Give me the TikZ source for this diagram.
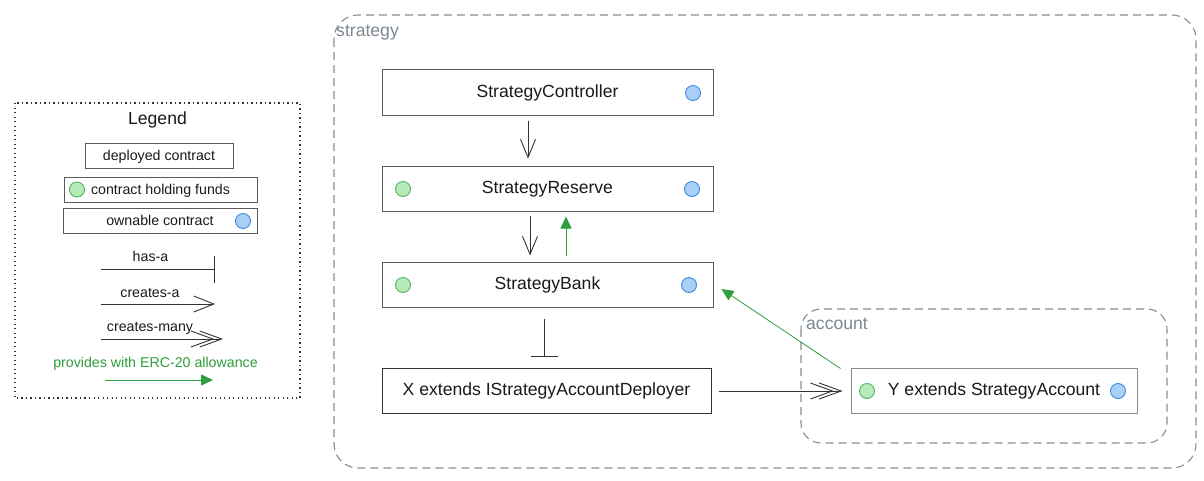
\documentclass[tikz,border=0pt]{standalone}
\usepackage{fontspec}
\setmainfont{Liberation Sans}
\usetikzlibrary{arrows.meta}
\definecolor{txt}{HTML}{1A1A1A}
\definecolor{boxline}{HTML}{5A5A5A}
\definecolor{grpline}{HTML}{8C8C8C}
\definecolor{grptxt}{HTML}{7D8791}
\definecolor{allow}{HTML}{2E9E3C}
\definecolor{gfill}{HTML}{B5EDB8}
\definecolor{gline}{HTML}{55B060}
\definecolor{bfill}{HTML}{A8D0F8}
\definecolor{bline}{HTML}{3F88D6}
\definecolor{edge}{HTML}{333333}
\tikzset{
  bigfont/.style={font=\fontsize{17.6}{20}\selectfont, text height=12pt, text depth=1.4pt},
  smallfont/.style={font=\fontsize{14.2}{16}\selectfont, text height=10pt, text depth=0.8pt},
  contract/.style={draw=boxline, line width=1pt, fill=white, minimum height=45pt, inner sep=0pt, text=txt, bigfont},
  legbox/.style={draw=boxline, line width=1pt, fill=white, minimum height=25pt, inner sep=0pt, text=txt, smallfont},
  fundsdot/.style={circle, draw=gline, fill=gfill, line width=0.9pt, minimum size=15pt, inner sep=0pt},
  owndot/.style={circle, draw=bline, fill=bfill, line width=0.9pt, minimum size=15pt, inner sep=0pt},
  grp/.style={draw=grpline, line width=1.1pt, dash pattern=on 8pt off 5pt},
  grplabel/.style={text=grptxt, bigfont, inner sep=0pt, anchor=west},
  hasa/.style={draw=edge, line width=1pt, -{Bar[width=27pt]}},
  createsa/.style={draw=edge, line width=0.9pt, -{Straight Barb[length=18pt,width=15pt]}},
  createsmany/.style={draw=edge, line width=0.9pt, -{Straight Barb[length=22pt,width=16pt,sep=-15pt]Straight Barb[length=22pt,width=16pt]}},
  allowance/.style={draw=allow, line width=1pt, -{Triangle[length=12pt,width=11pt]}, allow},
  elabel/.style={text=txt, smallfont, inner sep=0pt},
}
\begin{document}
\begin{tikzpicture}[x=1pt,y=-1pt]
\useasboundingbox (0,0) rectangle (1204,480);
\fill[white] (0,0) rectangle (1204,480);

% Legend
\draw[edge, line width=1.3pt, dash pattern=on 1.3pt off 3.2pt] (15,103) rectangle (300,398);
\node[text=txt, bigfont, inner sep=0pt] (legtitle) at (157.5,119) {Legend};
\node[legbox, minimum width=148pt] (ldep) at (159,156) {deployed contract};
\node[legbox, minimum width=193pt] (lfunds) at (160.5,189.5) {contract holding funds};
\node[fundsdot] (lfundsdot) at (77,189.5) {};
\node[legbox, minimum width=194pt] (lown) at (160,221) {ownable contract};
\node[owndot] (lowndot) at (243,221) {};
\coordinate (h1) at (101,269); \coordinate (h2) at (215,269);
\draw[hasa] (h1) -- (h2);
\node[elabel] (lhas) at (150.5,256.5) {has-a};
\coordinate (c1) at (101,304); \coordinate (c2) at (215,304);
\draw[createsa, -{Straight Barb[length=20pt,width=16pt]}] (c1) -- (c2);
\node[elabel] (lcre) at (150,292.5) {creates-a};
\coordinate (m1) at (101,339); \coordinate (m2) at (223,339);
\draw[createsmany] (m1) -- (m2);
\node[elabel] (lmany) at (150,327) {creates-many};
\node[smallfont, text=allow, inner sep=0pt] (lallow) at (155.5,362.5) {provides with ERC-20 allowance};
\coordinate (a1) at (105,380); \coordinate (a2) at (213,380);
\draw[allowance] (a1) -- (a2);

% strategy group
\draw[grp, rounded corners=24pt] (334,15) rectangle (1196,468);
\node[grplabel] (gstrat) at (336,31) {strategy};

% account group
\draw[grp, rounded corners=20pt] (801,309) rectangle (1167,443);
\node[grplabel] (gacc) at (806,324) {account};

% contracts
\node[contract, minimum width=331pt, minimum height=46pt] (ctrl) at (547.5,92) {StrategyController};
\node[owndot] (ctrlo) at (693,93) {};
\node[contract, minimum width=331pt] (res) at (547.5,188.5) {StrategyReserve};
\node[fundsdot] (resf) at (403,189) {};
\node[owndot] (reso) at (692,189) {};
\node[contract, minimum width=331pt] (bank) at (547.5,284.5) {StrategyBank};
\node[fundsdot] (bankf) at (403,285) {};
\node[owndot] (banko) at (689,285) {};
\node[contract, minimum width=329pt, draw=edge] (dep) at (546.5,390.5) {X extends IStrategyAccountDeployer};
\node[contract, minimum width=286pt, draw=grpline] (acc) at (994,390.5) {Y extends StrategyAccount};
\node[fundsdot] (accf) at (867,391) {};
\node[owndot] (acco) at (1118,391) {};

% connectors
\draw[createsa] ([xshift=-19.5pt,yshift=-5pt]ctrl.south) -- ([xshift=-19.5pt,yshift=7pt]res.north);
\draw[createsa] ([xshift=-17.5pt,yshift=-4pt]res.south) -- ([xshift=-17.5pt,yshift=6pt]bank.north);
\draw[allowance] ([xshift=18.5pt,yshift=6pt]bank.north) -- ([xshift=18.5pt,yshift=-5pt]res.south);
\draw[hasa] ([xshift=-3.5pt,yshift=-11pt]bank.south) -- ([xshift=-2.5pt,yshift=11pt]dep.north);
\draw[createsmany] ([xshift=7pt,yshift=-0.5pt]dep.east) -- ([xshift=-8pt,yshift=-0.5pt]acc.west);
\draw[allowance, line width=0.8pt] ([xshift=-10pt,yshift=-1pt]acc.north west) -- ([xshift=8pt,yshift=-4.5pt]bank.east);
\end{tikzpicture}
\end{document}
